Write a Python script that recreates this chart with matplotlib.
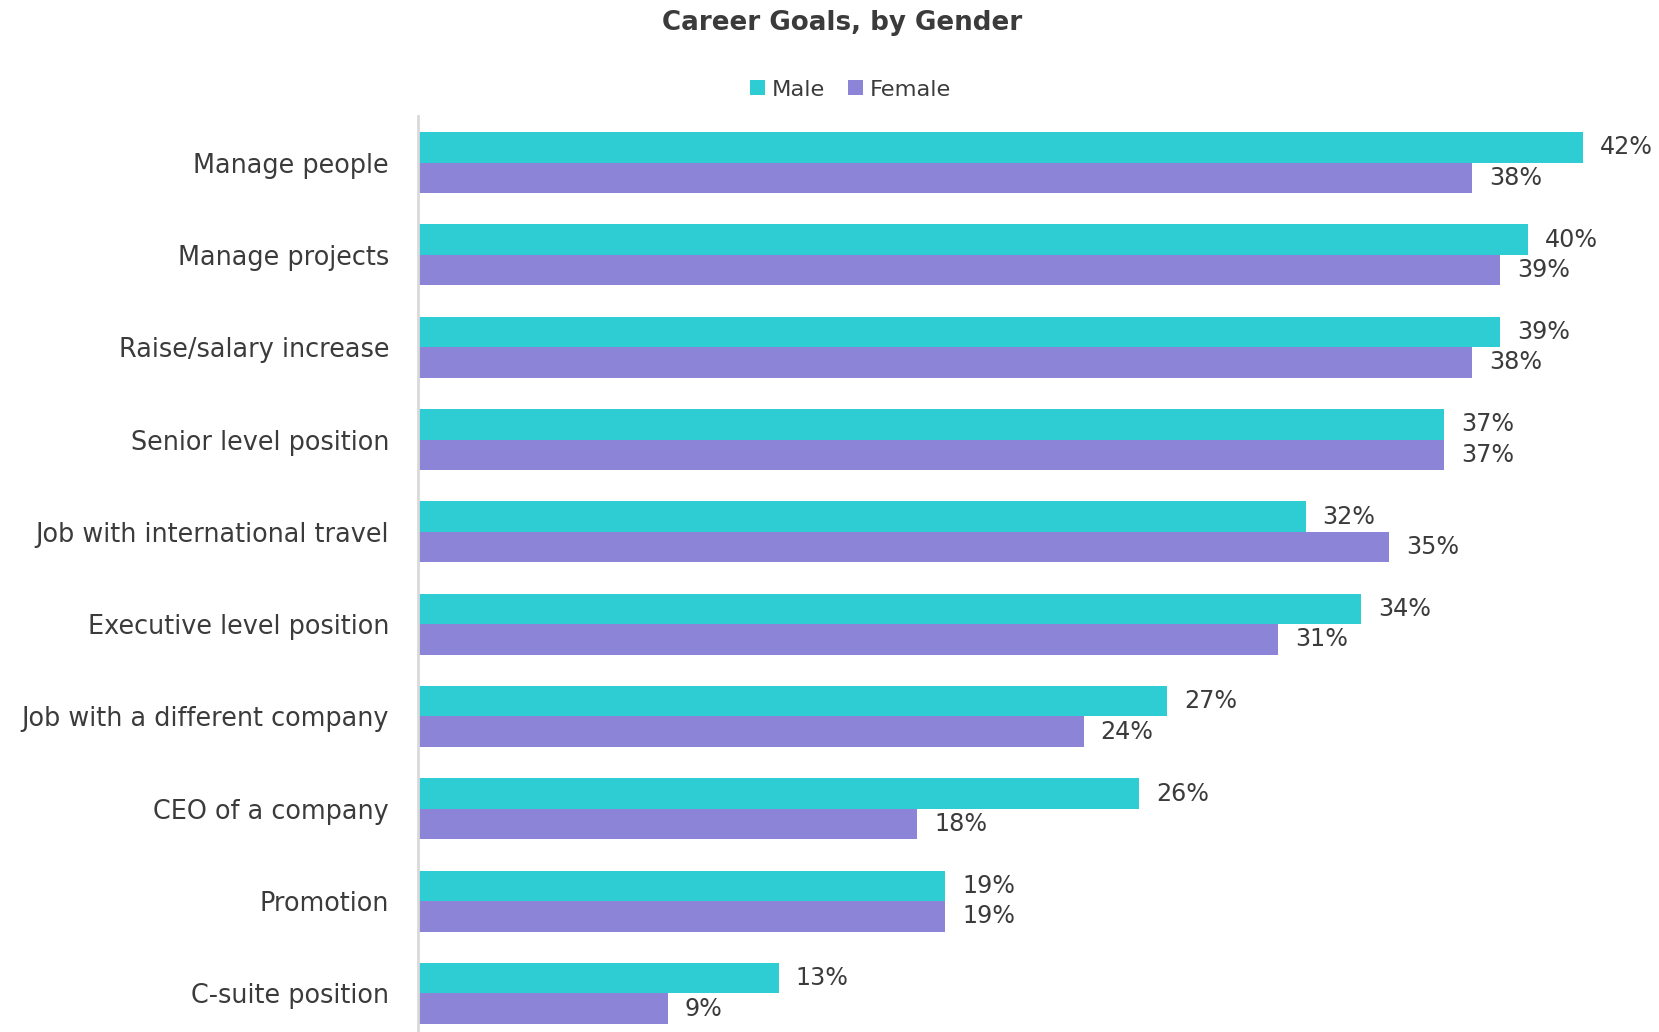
import matplotlib.pyplot as plt
import numpy as np

categories = ['Manage people', 'Manage projects', 'Raise/salary increase',
              'Senior level position', 'Job with international travel',
              'Executive level position', 'Job with a different company',
              'CEO of a company', 'Promotion', 'C-suite position']
male = [42, 40, 39, 37, 32, 34, 27, 26, 19, 13]
female = [38, 39, 38, 37, 35, 31, 24, 18, 19, 9]

teal = '#2ECCD3'
purple = '#8B84D7'
text_col = '#3b3b3b'

plt.rcParams['font.family'] = ['DejaVu Sans']

fig = plt.figure(figsize=(16.59, 10.32), dpi=100)
ax = fig.add_axes([0.252, -0.00727, 0.748, 0.8944])

y = np.arange(len(categories))
h = 0.33
ax.barh(y - h / 2, male, height=h, color=teal, linewidth=0, label='Male')
ax.barh(y + h / 2, female, height=h, color=purple, linewidth=0, label='Female')

# value labels just past the end of each bar
for yi, v in zip(y, male):
    ax.annotate(f'{v}%', (v, yi - h / 2), xytext=(12.2, 0), textcoords='offset points',
                va='center', ha='left', fontsize=17.2, color=text_col)
for yi, v in zip(y, female):
    ax.annotate(f'{v}%', (v, yi + h / 2), xytext=(12.2, 0), textcoords='offset points',
                va='center', ha='left', fontsize=17.2, color=text_col)

ax.set_xlim(0, 44.74)
ax.set_ylim(9.5, -0.5)
ax.set_yticks(y)
ax.set_yticklabels(categories, fontsize=18.4, color=text_col)
ax.tick_params(axis='y', length=0, pad=20.9)
ax.set_xticks([])
for s in ['top', 'right', 'bottom']:
    ax.spines[s].set_visible(False)
ax.spines['left'].set_color('#d9d9d9')
ax.spines['left'].set_linewidth(2)

fig.text(0.5075, 1 - 23 / 1032, 'Career Goals, by Gender', ha='center', va='center',
         fontsize=18.8, fontweight='bold', color=text_col)

fig.legend(loc='center', bbox_to_anchor=(0.5127, 1 - 89.5 / 1032), ncol=2, frameon=False,
           fontsize=16.2, handlelength=0.68, handleheight=0.68, handletextpad=0.3,
           columnspacing=1.0, labelcolor=text_col)

fig.savefig('out.png', dpi=100)
